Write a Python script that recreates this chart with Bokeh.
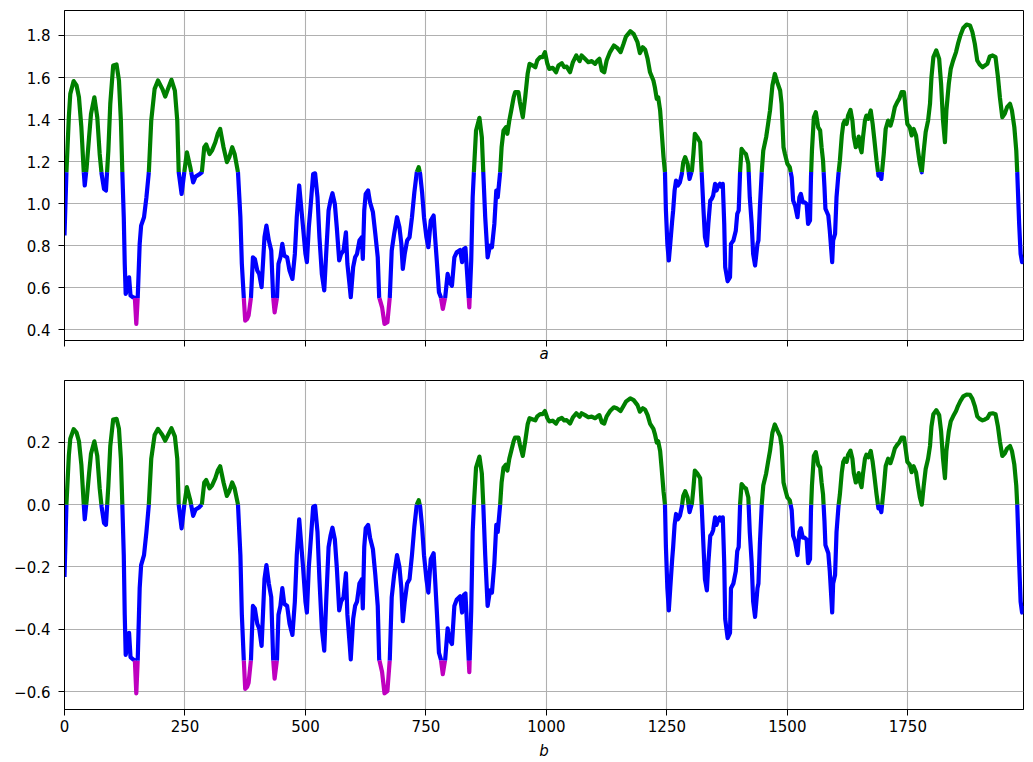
from bokeh.plotting import figure
from bokeh.layouts import column
from bokeh.models import Range1d, FixedTicker, ColumnDataSource
from bokeh.embed import file_html
from bokeh.resources import INLINE

# ---------------- data ----------------
x_vals = [0, 4, 9, 12, 19, 25, 30, 35, 40, 42, 46, 51, 55, 62, 68, 73, 77, 82, 86, 91, 95, 101, 108, 113, 117, 120,
          123, 125, 127, 130, 134, 137, 142, 146, 149, 152, 156, 159, 165, 170, 175, 180, 187, 194, 203, 209, 216,
          222, 229, 234, 237, 243, 249, 254, 261, 267, 272, 279, 285, 290, 294, 301, 306, 313, 318, 323, 330, 337,
          342, 348, 353, 360, 365, 368, 372, 375, 379, 382, 387, 391, 395, 400, 404, 409, 415, 419, 424, 429, 433,
          436, 441, 444, 448, 452, 456, 462, 467, 473, 478, 482, 487, 495, 500, 503, 507, 510, 516, 520, 525, 529,
          534, 539, 543, 548, 552, 556, 561, 565, 570, 574, 579, 584, 587, 592, 594, 599, 603, 607, 612, 617, 619,
          622, 625, 630, 634, 640, 645, 650, 653, 659, 664, 670, 675, 679, 684, 690, 695, 699, 702, 706, 711, 716,
          721, 726, 731, 735, 738, 742, 746, 751, 755, 760, 766, 769, 773, 777, 781, 785, 790, 795, 799, 804, 809,
          814, 821, 825, 829, 832, 836, 840, 844, 847, 850, 854, 861, 866, 869, 873, 878, 883, 887, 892, 896, 899,
          904, 907, 911, 916, 919, 923, 927, 932, 935, 942, 945, 951, 956, 961, 965, 972, 977, 981, 987, 992, 997,
          1002, 1006, 1013, 1020, 1025, 1032, 1037, 1042, 1049, 1055, 1062, 1069, 1073, 1080, 1087, 1094, 1101,
          1106, 1110, 1115, 1120, 1125, 1132, 1140, 1147, 1154, 1160, 1165, 1174, 1181, 1189, 1194, 1200, 1205,
          1210, 1215, 1222, 1225, 1229, 1232, 1236, 1239, 1243, 1246, 1248, 1251, 1254, 1257, 1261, 1263, 1266,
          1269, 1273, 1277, 1281, 1284, 1288, 1293, 1297, 1302, 1305, 1308, 1313, 1319, 1322, 1326, 1329, 1333,
          1336, 1340, 1343, 1346, 1350, 1353, 1357, 1360, 1364, 1366, 1369, 1371, 1376, 1381, 1383, 1388, 1393,
          1396, 1399, 1402, 1405, 1410, 1414, 1419, 1422, 1426, 1429, 1433, 1438, 1440, 1443, 1447, 1450, 1456,
          1460, 1464, 1469, 1474, 1479, 1485, 1488, 1492, 1495, 1500, 1505, 1509, 1512, 1516, 1521, 1525, 1528,
          1532, 1536, 1540, 1543, 1547, 1549, 1551, 1555, 1559, 1564, 1568, 1571, 1574, 1577, 1579, 1585, 1588,
          1593, 1595, 1599, 1602, 1606, 1609, 1613, 1616, 1619, 1623, 1626, 1631, 1635, 1638, 1642, 1645, 1648,
          1651, 1654, 1657, 1661, 1664, 1668, 1673, 1677, 1680, 1685, 1689, 1692, 1695, 1700, 1704, 1709, 1714,
          1718, 1723, 1728, 1732, 1737, 1742, 1746, 1749, 1754, 1758, 1762, 1767, 1771, 1775, 1779, 1783, 1787,
          1792, 1796, 1799, 1803, 1809, 1815, 1819, 1823, 1827, 1830, 1835, 1839, 1844, 1850, 1854, 1859, 1865,
          1872, 1879, 1884, 1889, 1894, 1899, 1905, 1910, 1915, 1920, 1926, 1932, 1937, 1941, 1946, 1951, 1956,
          1962, 1966, 1971, 1975, 1977, 1981, 1984, 1987, 1990]

a_vals = [0.848, 1.149, 1.411, 1.522, 1.583, 1.562, 1.506, 1.363, 1.149, 1.086, 1.173, 1.316, 1.427, 1.506, 1.411,
          1.236, 1.141, 1.070, 1.062, 1.252, 1.475, 1.657, 1.662, 1.586, 1.395, 1.149,
          0.935, 0.713, 0.570, 0.594, 0.649, 0.562, 0.554, 0.551, 0.427, 0.554, 0.808, 0.895, 0.935, 1.030, 1.149,
          1.395, 1.546, 1.586, 1.546, 1.509, 1.554,
          1.589, 1.538, 1.395, 1.149, 1.046, 1.157, 1.244, 1.173, 1.101, 1.128, 1.138, 1.149, 1.268, 1.281, 1.236,
          1.252, 1.292, 1.332, 1.355, 1.268, 1.197,
          1.221, 1.268, 1.236, 1.149, 0.935, 0.713, 0.554, 0.443, 0.451, 0.467, 0.554, 0.744, 0.736, 0.681, 0.665,
          0.602, 0.840, 0.895, 0.824, 0.776, 0.554,
          0.482, 0.554, 0.713, 0.744, 0.808, 0.752, 0.744, 0.681, 0.641, 0.760, 0.935, 1.086, 0.887, 0.760, 0.721,
          0.887, 0.967, 1.141, 1.144, 1.030, 0.840,
          0.665, 0.586, 0.760, 0.967, 1.014, 1.049, 0.998, 0.887, 0.729, 0.760, 0.776, 0.863, 0.713, 0.602, 0.554,
          0.697, 0.744, 0.760, 0.824, 0.840, 0.736,
          0.967, 1.046, 1.062, 1.006, 0.959, 0.855, 0.744, 0.554, 0.506, 0.427, 0.435, 0.554, 0.776, 0.855, 0.935,
          0.887, 0.808, 0.689, 0.760, 0.824, 0.840,
          0.935, 1.054, 1.149, 1.173, 1.141, 1.054, 0.935, 0.840, 0.792, 0.919, 0.943, 0.840, 0.713, 0.578, 0.554,
          0.498, 0.554, 0.665, 0.625, 0.609, 0.744,
          0.768, 0.779, 0.721, 0.784, 0.789, 0.649, 0.506, 0.729, 1.030, 1.173, 1.348, 1.408, 1.316, 1.149, 0.935,
          0.744, 0.800, 0.792, 0.903, 1.062, 1.030,
          1.149, 1.268, 1.348, 1.363, 1.332, 1.395, 1.443, 1.506, 1.530, 1.530, 1.483, 1.411, 1.506, 1.617, 1.665,
          1.657, 1.649, 1.681, 1.697, 1.697, 1.721,
          1.665, 1.641, 1.646, 1.625, 1.657, 1.668, 1.649, 1.652, 1.625, 1.673, 1.705, 1.678, 1.705, 1.689, 1.673,
          1.678, 1.665,
          1.681, 1.689, 1.633, 1.625, 1.681, 1.721, 1.752, 1.741, 1.721, 1.760, 1.795, 1.820, 1.808, 1.768, 1.716,
          1.744, 1.732,
          1.689, 1.625, 1.586, 1.554, 1.498, 1.506, 1.443, 1.348, 1.221, 1.149, 0.967, 0.808, 0.729, 0.808, 0.919,
          0.967, 1.062,
          1.109, 1.086, 1.101, 1.141, 1.197, 1.221, 1.189, 1.117, 1.157, 1.236, 1.332, 1.316, 1.292, 1.157, 0.967,
          0.840, 0.800,
          0.903, 1.014, 1.022, 1.038, 1.094, 1.062, 1.086, 1.094, 1.078, 1.094, 0.903, 0.697, 0.630, 0.649, 0.808,
          0.824, 0.871,
          0.951, 0.967, 1.157, 1.260, 1.244, 1.236, 1.189, 1.030, 0.903, 0.760, 0.705, 0.808, 0.824, 0.983, 1.157,
          1.252, 1.316,
          1.379, 1.443, 1.562, 1.617, 1.578, 1.538, 1.475, 1.268, 1.236, 1.189, 1.173, 1.125, 1.014, 0.990, 0.935,
          1.030, 1.046,
          1.006, 1.006, 0.998, 0.903, 0.919, 1.125, 1.252, 1.411, 1.435, 1.363, 1.348, 1.268, 1.205, 1.078, 0.975,
          0.943, 0.871,
          0.721, 0.824, 0.855, 1.030, 1.141, 1.205, 1.324, 1.379, 1.395, 1.379, 1.419, 1.446, 1.395, 1.316, 1.268,
          1.284, 1.319,
          1.268, 1.244, 1.316, 1.395, 1.419, 1.403, 1.443, 1.379, 1.316, 1.205, 1.133, 1.141, 1.117, 1.236, 1.355,
          1.395, 1.371,
          1.403, 1.459, 1.483, 1.498, 1.530, 1.530, 1.443, 1.379, 1.363, 1.324, 1.355, 1.324, 1.252, 1.189, 1.149,
          1.252, 1.340,
          1.395, 1.475, 1.601, 1.697, 1.729, 1.689, 1.570, 1.395, 1.292, 1.443, 1.570, 1.641, 1.681, 1.721, 1.760,
          1.800, 1.836,
          1.852, 1.848, 1.816, 1.760, 1.681, 1.662, 1.649, 1.657, 1.665, 1.700, 1.705, 1.697, 1.601, 1.506, 1.411,
          1.427, 1.459,
          1.475, 1.443, 1.363, 1.252, 1.149, 0.903, 0.760, 0.721, 0.744]

b_vals = [-0.232, 0.000, 0.157, 0.211, 0.242, 0.231, 0.203, 0.128, 0.000, -0.047, 0.014, 0.100, 0.163, 0.203, 0.156,
          0.052, -0.007, -0.059, -0.065, 0.061, 0.188, 0.273, 0.275, 0.243, 0.147, 0.000,
          -0.162, -0.353, -0.482, -0.460, -0.411, -0.489, -0.496, -0.499, -0.605, -0.496, -0.268, -0.194, -0.162,
          -0.088, 0.000, 0.147, 0.223, 0.243, 0.223, 0.205, 0.227,
          0.245, 0.219, 0.147, 0.000, -0.076, 0.004, 0.056, 0.014, -0.036, -0.016, -0.009, 0.000, 0.071, 0.079,
          0.052, 0.061, 0.085, 0.109, 0.123, 0.071, 0.028,
          0.043, 0.071, 0.052, 0.000, -0.162, -0.353, -0.496, -0.591, -0.584, -0.571, -0.496, -0.325, -0.333,
          -0.382, -0.397, -0.453, -0.239, -0.194, -0.253, -0.297, -0.496,
          -0.558, -0.496, -0.353, -0.325, -0.268, -0.318, -0.325, -0.382, -0.418, -0.311, -0.162, -0.047, -0.200,
          -0.311, -0.346, -0.200, -0.136, -0.007, -0.004, -0.088, -0.239,
          -0.397, -0.468, -0.311, -0.136, -0.100, -0.074, -0.112, -0.200, -0.339, -0.311, -0.297, -0.220, -0.353,
          -0.453, -0.496, -0.367, -0.325, -0.311, -0.253, -0.239, -0.333,
          -0.136, -0.076, -0.065, -0.106, -0.143, -0.226, -0.325, -0.496, -0.537, -0.605, -0.598, -0.496, -0.297,
          -0.226, -0.162, -0.200, -0.268, -0.374, -0.311, -0.253, -0.239,
          -0.162, -0.070, 0.000, 0.014, -0.007, -0.070, -0.162, -0.239, -0.282, -0.175, -0.156, -0.239, -0.353,
          -0.475, -0.496, -0.544, -0.496, -0.397, -0.433, -0.447, -0.325,
          -0.304, -0.294, -0.346, -0.289, -0.285, -0.411, -0.537, -0.339, -0.088, 0.014, 0.119, 0.154, 0.100,
          0.000, -0.162, -0.325, -0.275, -0.282, -0.188, -0.065, -0.088,
          0.000, 0.071, 0.119, 0.128, 0.109, 0.147, 0.172, 0.203, 0.215, 0.215, 0.192, 0.156, 0.203, 0.257, 0.277,
          0.273, 0.270, 0.283, 0.290, 0.290, 0.300,
          0.277, 0.267, 0.269, 0.260, 0.273, 0.278, 0.270, 0.271, 0.260, 0.280, 0.293, 0.282, 0.293, 0.287, 0.280,
          0.282, 0.277,
          0.283, 0.287, 0.264, 0.260, 0.283, 0.300, 0.312, 0.308, 0.300, 0.316, 0.330, 0.341, 0.335, 0.319, 0.298,
          0.309, 0.304,
          0.287, 0.260, 0.243, 0.227, 0.199, 0.203, 0.172, 0.119, 0.043, 0.000, -0.136, -0.268, -0.339, -0.268,
          -0.175, -0.136, -0.065,
          -0.030, -0.047, -0.036, -0.007, 0.028, 0.043, 0.023, -0.024, 0.004, 0.052, 0.109, 0.100, 0.085, 0.004,
          -0.136, -0.239, -0.275,
          -0.188, -0.100, -0.094, -0.082, -0.041, -0.065, -0.047, -0.041, -0.053, -0.041, -0.188, -0.367, -0.428,
          -0.411, -0.268, -0.253, -0.213,
          -0.149, -0.136, 0.004, 0.066, 0.056, 0.052, 0.023, -0.088, -0.188, -0.311, -0.360, -0.268, -0.253,
          -0.124, 0.004, 0.061, 0.100,
          0.137, 0.172, 0.231, 0.257, 0.239, 0.219, 0.188, 0.071, 0.052, 0.023, 0.014, -0.018, -0.100, -0.118,
          -0.162, -0.088, -0.076,
          -0.106, -0.106, -0.112, -0.188, -0.175, -0.018, 0.061, 0.156, 0.168, 0.128, 0.119, 0.071, 0.033, -0.053,
          -0.130, -0.156, -0.213,
          -0.346, -0.253, -0.226, -0.088, -0.007, 0.033, 0.104, 0.137, 0.147, 0.137, 0.160, 0.173, 0.147, 0.100,
          0.071, 0.080, 0.101,
          0.071, 0.056, 0.100, 0.147, 0.160, 0.152, 0.172, 0.137, 0.100, 0.033, -0.012, -0.007, -0.024, 0.052,
          0.123, 0.147, 0.133,
          0.152, 0.180, 0.192, 0.199, 0.215, 0.215, 0.172, 0.137, 0.128, 0.104, 0.123, 0.104, 0.061, 0.023, 0.000,
          0.061, 0.114,
          0.147, 0.188, 0.250, 0.290, 0.303, 0.287, 0.235, 0.147, 0.085, 0.172, 0.235, 0.267, 0.283, 0.300, 0.316,
          0.332, 0.347,
          0.353, 0.352, 0.339, 0.316, 0.283, 0.275, 0.270, 0.273, 0.277, 0.291, 0.293, 0.290, 0.250, 0.203, 0.156,
          0.164, 0.180,
          0.188, 0.172, 0.128, 0.061, 0.000, -0.188, -0.311, -0.346, -0.325]

# colour bands: below low -> magenta, between -> blue, above high -> green
a_low, a_high = 0.55, 1.15
b_low, b_high = -0.5, 0.0
band_colors = ["#bf00bf", "#0000ff", "#008000"]

x_ticks = [0, 250, 500, 750, 1000, 1250, 1500, 1750]
a_ticks = [0.4, 0.6, 0.8, 1.0, 1.2, 1.4, 1.6, 1.8]
b_ticks = [-0.6, -0.4, -0.2, 0.0, 0.2]


def banded_pieces(xs, vs, lo, hi):
    """Split the polyline where it crosses the band limits, group by band."""
    def band(v):
        if v < lo:
            return 0
        if v <= hi:
            return 1
        return 2
    out_x, out_y, out_c = [], [], []
    cur_x, cur_y, cur_b = [xs[0]], [vs[0]], None
    for i in range(len(xs) - 1):
        x0, v0, x1, v1 = xs[i], vs[i], xs[i + 1], vs[i + 1]
        ts = []
        for t in (lo, hi):
            if (v0 - t) * (v1 - t) < 0:
                ts.append((t - v0) / (v1 - v0))
        pts = [0.0] + sorted(ts) + [1.0]
        for j in range(len(pts) - 1):
            ta, tb = pts[j], pts[j + 1]
            xa, va = x0 + (x1 - x0) * ta, v0 + (v1 - v0) * ta
            xb, vb = x0 + (x1 - x0) * tb, v0 + (v1 - v0) * tb
            bnd = band((va + vb) / 2.0)
            if cur_b is None:
                cur_b = bnd
            if bnd != cur_b:
                out_x.append(cur_x); out_y.append(cur_y); out_c.append(band_colors[cur_b])
                cur_x, cur_y, cur_b = [xa], [va], bnd
            cur_x.append(xb); cur_y.append(vb)
    out_x.append(cur_x); out_y.append(cur_y); out_c.append(band_colors[cur_b])
    return dict(xs=out_x, ys=out_y, color=out_c)


FONT = "DejaVu Sans"
GRID = "#b0b0b0"


def style(p, yticks, show_xlabels, xlabel):
    p.outline_line_color = "black"
    p.outline_line_width = 1
    p.outline_line_alpha = 1
    p.background_fill_color = "white"
    p.border_fill_color = "white"
    for g in (p.xgrid, p.ygrid):
        g.grid_line_color = GRID
        g.grid_line_width = 1.1
    p.xaxis.ticker = FixedTicker(ticks=x_ticks)
    p.yaxis.ticker = FixedTicker(ticks=yticks)
    p.yaxis.major_label_overrides = {t: ("%.1f" % t).replace("-", "\u2212") for t in yticks}
    for ax in (p.xaxis[0], p.yaxis[0]):
        ax.axis_line_color = "black"
        ax.axis_line_width = 1
        ax.major_tick_line_color = "black"
        ax.major_tick_line_width = 1
        ax.major_tick_in = 0
        ax.major_tick_out = 6
        ax.minor_tick_line_color = None
        ax.major_label_text_font = FONT
        ax.major_label_text_font_size = "15px"
        ax.major_label_text_color = "black"
    p.yaxis.major_label_standoff = 8
    p.xaxis.major_label_standoff = 4
    p.xaxis.axis_label = xlabel
    p.xaxis.axis_label_text_font = FONT
    p.xaxis.axis_label_text_font_style = "italic"
    p.xaxis.axis_label_text_font_size = "15px"
    p.xaxis.axis_label_text_color = "black"
    if not show_xlabels:
        # shared x axis: tick marks only, no tick labels (as in the reference)
        p.xaxis.major_label_overrides = {t: "" for t in x_ticks}
        p.xaxis.major_label_standoff = 0
        p.xaxis.axis_label_standoff = -2
    else:
        p.xaxis.axis_label_standoff = 7


x_range = Range1d(0, 1990)

p1 = figure(width=1033, height=370, x_range=x_range, y_range=Range1d(0.348, 1.919),
            output_backend="svg", toolbar_location=None,
            min_border_left=64, min_border_right=10, min_border_top=10, min_border_bottom=30)
style(p1, a_ticks, False, "a")
p1.multi_line(xs="xs", ys="ys", line_color="color", line_width=4.2, line_join="round", line_cap="butt",
              source=ColumnDataSource(banded_pieces(x_vals, a_vals, a_low, a_high)))

p2 = figure(width=1033, height=392, x_range=x_range, y_range=Range1d(-0.657, 0.398),
            output_backend="svg", toolbar_location=None,
            min_border_left=64, min_border_right=10, min_border_top=10, min_border_bottom=52)
style(p2, b_ticks, True, "b")
p2.multi_line(xs="xs", ys="ys", line_color="color", line_width=4.2, line_join="round", line_cap="butt",
              source=ColumnDataSource(banded_pieces(x_vals, b_vals, b_low, b_high)))

layout = column(p1, p2, spacing=0)
open("out.html", "w").write(file_html(layout, INLINE))
